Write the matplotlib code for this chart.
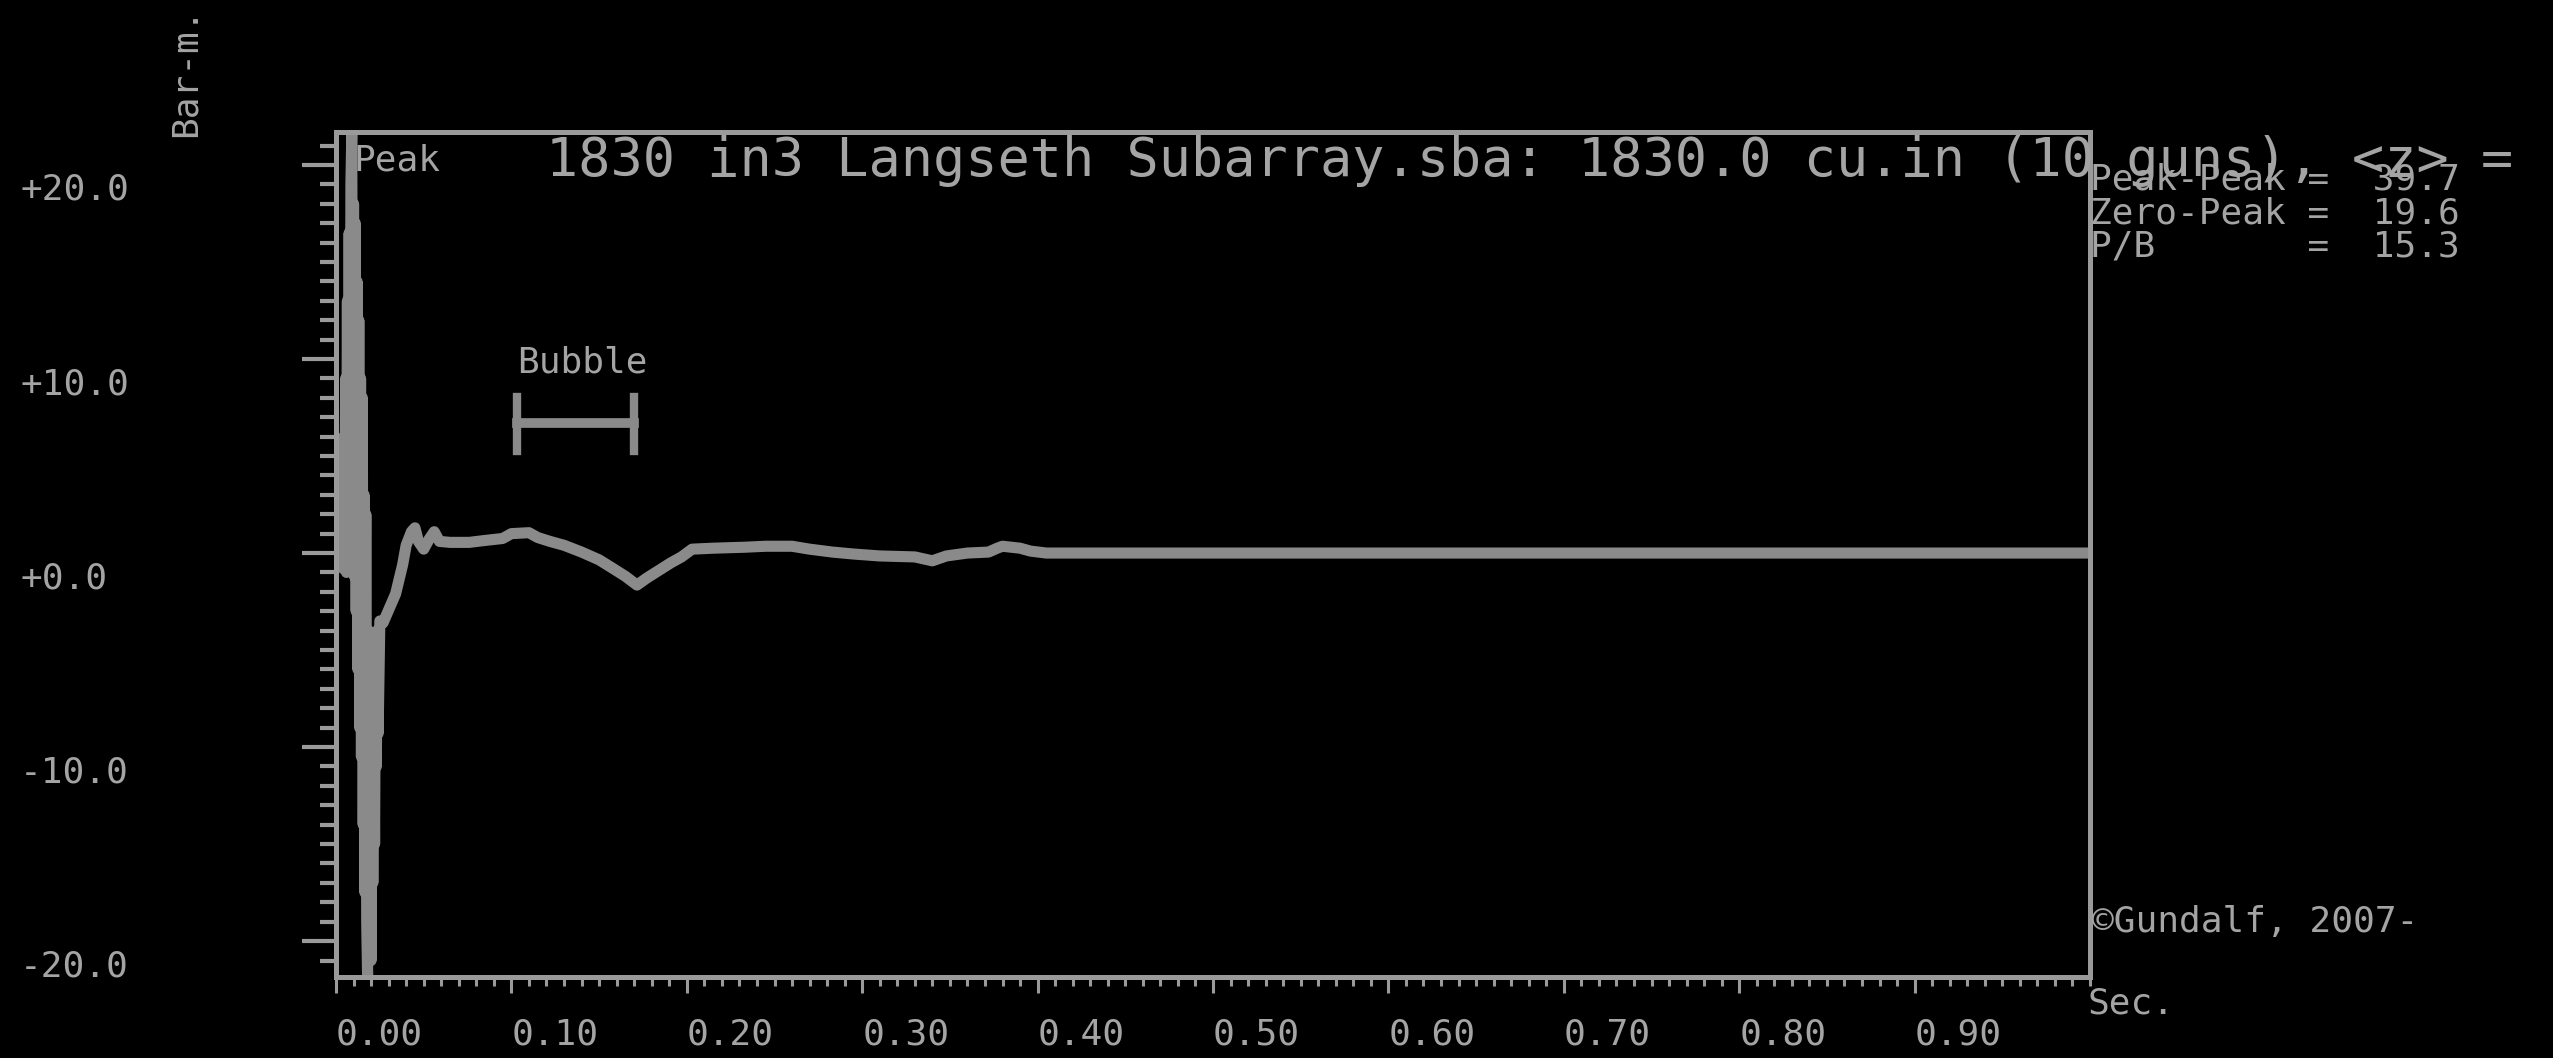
import matplotlib
matplotlib.use('Agg')
import matplotlib.pyplot as plt
from matplotlib.ticker import MultipleLocator
from matplotlib.transforms import ScaledTranslation

# far-field signature, time in seconds, pressure in bar-m
time_s = [0.000, 0.001, 0.002, 0.003, 0.0040, 0.0045, 0.0050, 0.0055, 0.0060, 0.0065,
          0.0070, 0.0075, 0.0080, 0.0085, 0.0090, 0.0095, 0.0100, 0.0105, 0.0110, 0.0115,
          0.0120, 0.0125, 0.0130, 0.0135, 0.0140, 0.0145, 0.0150, 0.0155, 0.0160, 0.0165,
          0.0170, 0.0175, 0.0180, 0.0185, 0.0190, 0.0195, 0.0200, 0.0205, 0.0210, 0.0215,
          0.0220, 0.0225, 0.0230, 0.0235, 0.0240, 0.0250,
          0.0268, 0.034, 0.038, 0.040,
          0.043, 0.045, 0.047, 0.050, 0.053, 0.056, 0.059, 0.065, 0.076, 0.085,
          0.095, 0.100, 0.110, 0.115, 0.122, 0.130, 0.140, 0.150, 0.158, 0.165,
          0.1716, 0.177, 0.184, 0.191, 0.197, 0.203, 0.215, 0.233, 0.245, 0.260,
          0.270, 0.283, 0.295, 0.310, 0.330, 0.340, 0.348, 0.360, 0.372, 0.377,
          0.380, 0.390, 0.396, 0.405, 0.500, 0.600, 0.700, 0.800, 0.900, 1.000]
pressure = [0.0, 0.5, -0.5, 2.5, -0.8, 6.0, -0.5, 9.0, -1.0, 13.0,
            0.0, 16.5, 0.5, 19.0, 21.6, -0.5, 18.0, -1.2, 17.0, -3.0,
            14.0, -6.0, 12.0, -9.0, 9.0, -10.5, 8.0, -14.0, 3.0, -17.5,
            2.0, -19.0, -21.8, -4.0, -20.0, -5.0, -21.0, -6.0, -17.0, -8.0,
            -15.0, -4.5, -11.0, -4.0, -9.3, -3.5,
            -3.6, -2.1, -0.6, 0.4,
            1.1, 1.3, 0.6, 0.2, 0.7, 1.1, 0.6, 0.55, 0.55, 0.65,
            0.75, 1.0, 1.05, 0.8, 0.6, 0.4, 0.05, -0.35, -0.8, -1.2,
            -1.65, -1.3, -0.9, -0.5, -0.2, 0.2, 0.25, 0.3, 0.35, 0.35,
            0.2, 0.05, -0.05, -0.15, -0.2, -0.4, -0.15, 0.0, 0.05, 0.25,
            0.35, 0.25, 0.1, 0.0, 0.0, 0.0, 0.0, 0.0, 0.0, 0.0]

x_ticks = [0.0, 0.1, 0.2, 0.3, 0.4, 0.5, 0.6, 0.7, 0.8, 0.9]
x_labels = ['0.00', '0.10', '0.20', '0.30', '0.40', '0.50', '0.60', '0.70', '0.80', '0.90']
y_ticks = [-20, -10, 0, 10, 20]
y_labels = ['-20.0', '-10.0', '+0.0', '+10.0', '+20.0']

stat_names = ['Peak-Peak', 'Zero-Peak', 'P/B']
stat_values = [39.7, 19.6, 15.3]

bubble_start = 0.103
bubble_end = 0.170
bubble_level = 6.7

title = '1830 in3 Langseth Subarray.sba: 1830.0 cu.in (10 guns), <z> ='

BG = 'black'
TRACE = '#8a8a8a'
LINE = '#9a9a9a'
TEXT = '#a4a4a4'
MONO = 'DejaVu Sans Mono'

W, H = 2553, 1058
plt.rcParams['font.family'] = MONO

fig = plt.figure(figsize=(W / 100, H / 100), dpi=100, facecolor=BG)
ax = fig.add_axes([336 / W, 1 - 977 / H, (2090 - 336) / W, (977 - 132) / H], facecolor=BG)

ax.plot(time_s, pressure, color=TRACE, lw=8, solid_joinstyle='round')

# bubble period marker
ax.plot([bubble_start, bubble_end], [bubble_level, bubble_level], color=TRACE, lw=7)
for xb in (bubble_start, bubble_end):
    ax.plot([xb, xb], [bubble_level - 1.45, bubble_level + 1.35], color=TRACE, lw=6)
ax.text(bubble_start, bubble_level + 2.6, 'Bubble', color=TEXT, fontsize=26,
        ha='left', va='baseline')

ax.set_xlim(0, 1.0)
ax.set_ylim(-21.85, 21.7)

for s in ax.spines.values():
    s.set_color(LINE)
    s.set_linewidth(3.6)

ax.set_xticks(x_ticks)
ax.set_xticklabels(x_labels)
ax.xaxis.set_minor_locator(MultipleLocator(0.01))
ax.set_yticks(y_ticks)
ax.set_yticklabels(y_labels)
ax.yaxis.set_minor_locator(MultipleLocator(1))

ax.tick_params(axis='x', which='major', direction='out', length=11.5, width=2.2,
               color=LINE, labelcolor=TEXT, labelsize=26, pad=18)
ax.tick_params(axis='x', which='minor', direction='out', length=6.5, width=2.2, color=LINE)
ax.tick_params(axis='y', which='major', direction='out', length=24.5, width=3,
               color=LINE, labelcolor=TEXT, labelsize=26, pad=203)
ax.tick_params(axis='y', which='minor', direction='out', length=11.5, width=3, color=LINE)

for lab in ax.get_xticklabels():
    lab.set_horizontalalignment('left')
shift = ScaledTranslation(0, -8 / 100, fig.dpi_scale_trans)
for lab in ax.get_yticklabels():
    lab.set_horizontalalignment('left')
    lab.set_verticalalignment('top')
    lab.set_transform(lab.get_transform() + shift)

ax.text(0.0097, 0.955, 'Peak', transform=ax.transAxes, color=TEXT, fontsize=26,
        ha='left', va='baseline')

# header line runs past the plot frame and into the statistics block
fig.text(546 / W, 1 - 176 / H, title, color=TEXT, fontsize=38.5, ha='left', va='baseline')

for i, (name, val) in enumerate(zip(stat_names, stat_values)):
    fig.text(2090 / W, 1 - (190 + 33 * i) / H, f'{name:<9s} = {val:5.1f}',
             color=TEXT, fontsize=26, ha='left', va='baseline')

fig.text(2092 / W, 1 - 932 / H, '\u00a9Gundalf, 2007-', color=TEXT, fontsize=26,
         ha='left', va='baseline')
fig.text(2088 / W, 1 - 1013 / H, 'Sec.', color=TEXT, fontsize=26, ha='left', va='baseline')
fig.text(186 / W, 1 - 72 / H, 'Bar-m.', color=TEXT, fontsize=26, rotation=90,
         ha='center', va='center')

fig.savefig('out.png', dpi=100, facecolor=BG)
